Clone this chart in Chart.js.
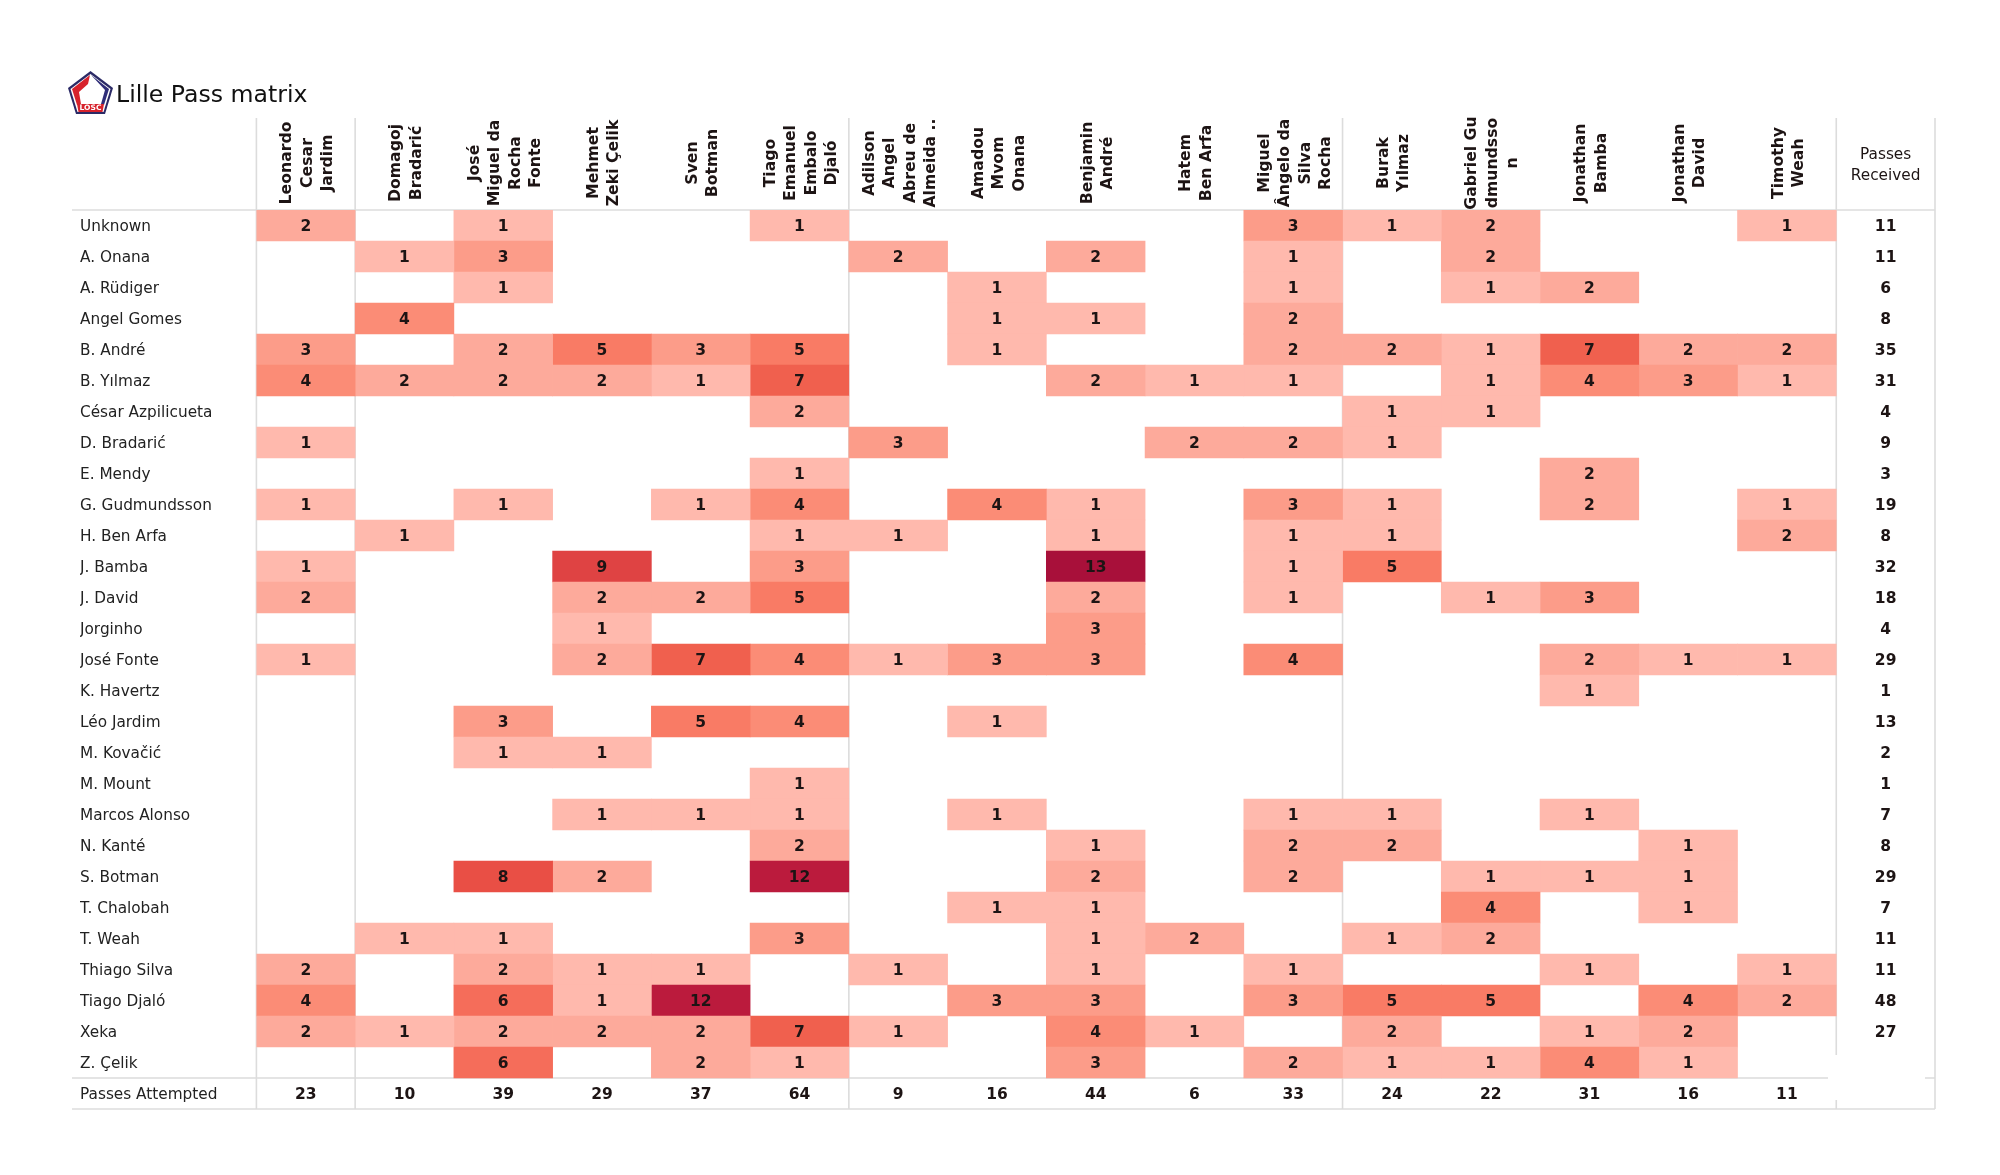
<!DOCTYPE html>
<html>
<head>
<meta charset="utf-8">
<style>html,body{margin:0;padding:0;background:#fff}#wrap{width:2000px;height:1175px}</style>
<script src="https://cdn.jsdelivr.net/npm/chart.js@4"></script>
</head>
<body>
<div id="wrap"><canvas id="c" width="2000" height="1175"></canvas></div>
<script>
const titleText = "Lille Pass matrix";
const receiverLabels = [
  ["Leonardo","Cesar","Jardim"],["Domagoj","Bradarić"],["José","Miguel da","Rocha","Fonte"],
  ["Mehmet","Zeki Çelik"],["Sven","Botman"],["Tiago","Emanuel","Embalo","Djaló"],
  ["Adilson","Angel","Abreu de","Almeida .."],["Amadou","Mvom","Onana"],["Benjamin","André"],
  ["Hatem","Ben Arfa"],["Miguel","Ângelo da","Silva","Rocha"],["Burak","Yılmaz"],
  ["Gabriel Gu","dmundsso","n"],["Jonathan","Bamba"],["Jonathan","David"],["Timothy","Weah"]
];
const receivedHeader = ["Passes","Received"];
const attemptedHeader = "Passes Attempted";
const passerLabels = ["Unknown","A. Onana","A. Rüdiger","Angel Gomes","B. André","B. Yılmaz","César Azpilicueta",
  "D. Bradarić","E. Mendy","G. Gudmundsson","H. Ben Arfa","J. Bamba","J. David","Jorginho","José Fonte","K. Havertz",
  "Léo Jardim","M. Kovačić","M. Mount","Marcos Alonso","N. Kanté","S. Botman","T. Chalobah","T. Weah","Thiago Silva",
  "Tiago Djaló","Xeka","Z. Çelik"];
const _ = null;
const passCounts = [
  [2,_,1,_,_,1,_,_,_,_,3,1,2,_,_,1],
  [_,1,3,_,_,_,2,_,2,_,1,_,2,_,_,_],
  [_,_,1,_,_,_,_,1,_,_,1,_,1,2,_,_],
  [_,4,_,_,_,_,_,1,1,_,2,_,_,_,_,_],
  [3,_,2,5,3,5,_,1,_,_,2,2,1,7,2,2],
  [4,2,2,2,1,7,_,_,2,1,1,_,1,4,3,1],
  [_,_,_,_,_,2,_,_,_,_,_,1,1,_,_,_],
  [1,_,_,_,_,_,3,_,_,2,2,1,_,_,_,_],
  [_,_,_,_,_,1,_,_,_,_,_,_,_,2,_,_],
  [1,_,1,_,1,4,_,4,1,_,3,1,_,2,_,1],
  [_,1,_,_,_,1,1,_,1,_,1,1,_,_,_,2],
  [1,_,_,9,_,3,_,_,13,_,1,5,_,_,_,_],
  [2,_,_,2,2,5,_,_,2,_,1,_,1,3,_,_],
  [_,_,_,1,_,_,_,_,3,_,_,_,_,_,_,_],
  [1,_,_,2,7,4,1,3,3,_,4,_,_,2,1,1],
  [_,_,_,_,_,_,_,_,_,_,_,_,_,1,_,_],
  [_,_,3,_,5,4,_,1,_,_,_,_,_,_,_,_],
  [_,_,1,1,_,_,_,_,_,_,_,_,_,_,_,_],
  [_,_,_,_,_,1,_,_,_,_,_,_,_,_,_,_],
  [_,_,_,1,1,1,_,1,_,_,1,1,_,1,_,_],
  [_,_,_,_,_,2,_,_,1,_,2,2,_,_,1,_],
  [_,_,8,2,_,12,_,_,2,_,2,_,1,1,1,_],
  [_,_,_,_,_,_,_,1,1,_,_,_,4,_,1,_],
  [_,1,1,_,_,3,_,_,1,2,_,1,2,_,_,_],
  [2,_,2,1,1,_,1,_,1,_,1,_,_,1,_,1],
  [4,_,6,1,12,_,_,3,3,_,3,5,5,_,4,2],
  [2,1,2,2,2,7,1,_,4,1,_,2,_,1,2,_],
  [_,_,6,_,2,1,_,_,3,_,2,1,1,4,1,_]
];
const passesReceived = [11,11,6,8,35,31,4,9,3,19,8,32,18,4,29,1,13,2,1,7,8,29,7,11,11,48,27,_];
const passesAttempted = [23,10,39,29,37,64,9,16,44,6,33,24,22,31,16,11];
const shadeByCount = {1:"#ffb9ad",2:"#fdaa9b",3:"#fc9c89",4:"#fb8c76",5:"#f97b65",6:"#f56d5a",7:"#f0604e",8:"#e94f45",9:"#df4343",12:"#bb1b3d",13:"#a8103a"};

const FONT = '"DejaVu Sans"';
const INK = "#1d1414";
const RULE = "#dcdcdc";
const TEXT_DROP = 1.5;

const tableText = {
  id: "tableText",
  beforeDatasetsDraw(chart) {
    const {ctx, scales:{x, y}} = chart;
    const top = 118, left = 72, head = y.top, bottom = y.bottom;
    const rowEdge = y.getPixelForValue(passerLabels.length) - (y.height/(passerLabels.length+1))/2;
    ctx.save();
    ctx.strokeStyle = RULE; ctx.lineWidth = 1.6;
    [0,1,6,11].forEach(v => { ctx.beginPath(); ctx.moveTo(x.getPixelForValue(v), top); ctx.lineTo(x.getPixelForValue(v), bottom); ctx.stroke(); });
    const rc = x.getPixelForValue(16);
    ctx.beginPath(); ctx.moveTo(rc, top); ctx.lineTo(rc, 1055); ctx.moveTo(rc, 1100); ctx.lineTo(rc, bottom); ctx.stroke();
    const rr = x.getPixelForValue(17);
    ctx.beginPath(); ctx.moveTo(rr, top); ctx.lineTo(rr, bottom); ctx.stroke();
    ctx.beginPath(); ctx.moveTo(left, head); ctx.lineTo(rr, head); ctx.stroke();
    ctx.beginPath(); ctx.moveTo(left, rowEdge); ctx.lineTo(1828, rowEdge); ctx.moveTo(1925, rowEdge); ctx.lineTo(rr, rowEdge); ctx.stroke();
    ctx.beginPath(); ctx.moveTo(left, bottom); ctx.lineTo(rr, bottom); ctx.stroke();
    ctx.restore();
  },
  afterDatasetsDraw(chart) {
    const {ctx, scales:{x, y, colHead}} = chart;
    ctx.save();
    ctx.fillStyle = INK; ctx.textAlign = "center"; ctx.textBaseline = "middle";
    ctx.font = `bold 15.5px ${FONT}`;
    passCounts.forEach((row, r) => row.forEach((v, c) => {
      if (v !== null) ctx.fillText(String(v), x.getPixelForValue(c + .5), y.getPixelForValue(r) + TEXT_DROP);
    }));
    passesReceived.forEach((v, r) => { if (v !== null) ctx.fillText(String(v), x.getPixelForValue(16.5), y.getPixelForValue(r) + TEXT_DROP); });
    passesAttempted.forEach((v, c) => ctx.fillText(String(v), x.getPixelForValue(c + .5), y.getPixelForValue(passerLabels.length) + TEXT_DROP));

    const mid = 163, lead = 20.5;
    ctx.font = `bold 15.7px ${FONT}`;
    receiverLabels.forEach((lines, c) => {
      const px = colHead.getPixelForValue(c) + 2;
      lines.forEach((t, i) => {
        ctx.save();
        ctx.translate(px + (i - (lines.length - 1) / 2) * lead, mid);
        ctx.rotate(-Math.PI / 2);
        ctx.fillText(t, 0, 0);
        ctx.restore();
      });
    });
    ctx.font = `15.3px ${FONT}`;
    receivedHeader.forEach((t, i) => ctx.fillText(t, colHead.getPixelForValue(16), 155 + i * 21));

    ctx.textAlign = "left"; ctx.fillStyle = "#111";
    ctx.font = `23.6px ${FONT}`;
    ctx.fillText(titleText, 116, 96);
    drawBadge(ctx);
    ctx.restore();
  }
};

function drawBadge(ctx) {
  const poly = pts => { ctx.beginPath(); pts.forEach((p, i) => i ? ctx.lineTo(p[0], p[1]) : ctx.moveTo(p[0], p[1])); ctx.closePath(); };
  poly([[90.5,71],[113,88],[105,114],[76,114],[68,88]]);
  ctx.fillStyle = "#2b2a66"; ctx.fill();
  poly([[90.5,74],[110.5,89],[103.5,112],[77.5,112],[70.5,89]]);
  ctx.fillStyle = "#fff"; ctx.fill();
  poly([[90,75],[72,89],[77,105],[81,104],[79,92],[88,84]]);
  ctx.fillStyle = "#d7222c"; ctx.fill();
  poly([[91,75],[109,89],[104,105],[101,104],[105,90]]);
  ctx.fillStyle = "#2f2d78"; ctx.fill();
  poly([[77,104],[104,104],[102.5,112],[78.5,112]]);
  ctx.fillStyle = "#d7222c"; ctx.fill();
  ctx.fillStyle = "#fff"; ctx.textAlign = "center";
  ctx.font = `bold 7.5px ${FONT}`;
  ctx.fillText("LOSC", 90.5, 108.5);
  ctx.textAlign = "left";
}

const cellDatasets = receiverLabels.map((_label, c) => ({
  label: _label.join(" "),
  data: passCounts.map(row => row[c] === null ? null : [c, c + 1]),
  backgroundColor: passCounts.map(row => row[c] === null ? "transparent" : shadeByCount[row[c]]),
  borderWidth: 0,
  grouped: false,
  barPercentage: 1,
  categoryPercentage: 1
}));

new Chart(document.getElementById("c"), {
  type: "bar",
  data: { labels: [...passerLabels, attemptedHeader], datasets: cellDatasets },
  options: {
    indexAxis: "y",
    responsive: false,
    animation: false,
    devicePixelRatio: 1,
    layout: { padding: { top: 118, left: 80, right: 65, bottom: 66 } },
    plugins: { legend: { display: false }, title: { display: false }, tooltip: { enabled: false } },
    scales: {
      x: { type: "linear", min: 0, max: 17, display: false },
      colHead: {
        type: "category", axis: "x", position: "top", offset: true,
        labels: [...receiverLabels.map(l => l.join(" ")), receivedHeader.join(" ")],
        grid: { display: false }, border: { display: false }, ticks: { display: false },
        afterFit(s) { s.height = 92; }
      },
      y: {
        type: "category", offset: true,
        grid: { display: false }, border: { display: false },
        ticks: { autoSkip: false, crossAlign: "far", color: "#222", font: { family: "DejaVu Sans", size: 15.3 }, padding: 0, labelOffset: TEXT_DROP },
        afterFit(s) { s.width = 176.4; }
      }
    }
  },
  plugins: [tableText]
});
</script>
</body>
</html>
